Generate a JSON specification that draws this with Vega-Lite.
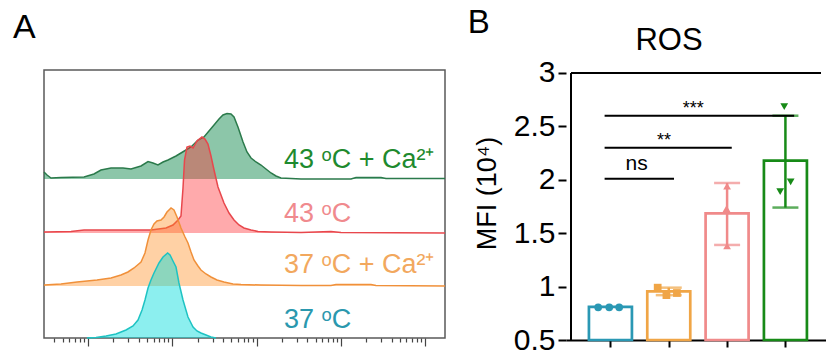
{
  "$schema": "https://vega.github.io/schema/vega-lite/v6.json",
  "padding": {"left": 12, "top": 7, "right": 0, "bottom": 0},
  "config": {"font": "Liberation Sans", "title": {"font": "Liberation Sans", "color": "black"}, "axis": {"labelFont": "Liberation Sans", "titleFont": "Liberation Sans"}},
  "spacing": 18,
  "resolve": {"scale": {"x": "independent", "y": "independent", "color": "independent", "shape": "independent"}},
  "datasets": {
    "green": [{"lx":1.478,"h":166},{"lx":1.514,"h":163},{"lx":1.561,"h":160},{"lx":1.680,"h":160.5},{"lx":1.953,"h":161},{"lx":2.071,"h":164},{"lx":2.154,"h":168},{"lx":2.273,"h":170},{"lx":2.415,"h":170},{"lx":2.510,"h":169},{"lx":2.629,"h":172},{"lx":2.712,"h":176.5},{"lx":2.771,"h":175},{"lx":2.830,"h":173},{"lx":2.890,"h":176},{"lx":2.949,"h":178},{"lx":3.044,"h":182},{"lx":3.103,"h":185},{"lx":3.222,"h":191},{"lx":3.305,"h":198},{"lx":3.376,"h":201},{"lx":3.435,"h":207},{"lx":3.495,"h":213},{"lx":3.554,"h":219},{"lx":3.601,"h":223},{"lx":3.649,"h":224.5},{"lx":3.696,"h":224},{"lx":3.732,"h":221},{"lx":3.779,"h":211},{"lx":3.839,"h":196},{"lx":3.886,"h":186},{"lx":3.934,"h":180},{"lx":3.993,"h":176},{"lx":4.052,"h":173},{"lx":4.111,"h":169},{"lx":4.171,"h":165},{"lx":4.230,"h":162},{"lx":4.289,"h":160},{"lx":4.408,"h":159.5},{"lx":4.527,"h":159},{"lx":5.120,"h":159},{"lx":5.179,"h":160.5},{"lx":5.476,"h":160.5},{"lx":5.535,"h":159.5},{"lx":6.235,"h":159.5}],
    "red": [{"lx":1.478,"h":106},{"lx":1.798,"h":106.5},{"lx":1.953,"h":108},{"lx":2.391,"h":108},{"lx":2.747,"h":108},{"lx":2.925,"h":110},{"lx":3.008,"h":113},{"lx":3.068,"h":118},{"lx":3.103,"h":122},{"lx":3.127,"h":150},{"lx":3.145,"h":178},{"lx":3.174,"h":191},{"lx":3.210,"h":192},{"lx":3.246,"h":190},{"lx":3.293,"h":197},{"lx":3.352,"h":201},{"lx":3.388,"h":199},{"lx":3.423,"h":194},{"lx":3.459,"h":182},{"lx":3.495,"h":168},{"lx":3.542,"h":151},{"lx":3.613,"h":135},{"lx":3.673,"h":125},{"lx":3.732,"h":118},{"lx":3.791,"h":113},{"lx":3.850,"h":110},{"lx":3.934,"h":108},{"lx":4.017,"h":106.5},{"lx":4.171,"h":106},{"lx":4.527,"h":105.5},{"lx":4.882,"h":106.5},{"lx":5.001,"h":105.5},{"lx":6.235,"h":105}],
    "orange": [{"lx":1.478,"h":53},{"lx":1.680,"h":54},{"lx":1.870,"h":56},{"lx":2.107,"h":58},{"lx":2.273,"h":60},{"lx":2.391,"h":63},{"lx":2.474,"h":66},{"lx":2.546,"h":70},{"lx":2.629,"h":76},{"lx":2.676,"h":85},{"lx":2.712,"h":98},{"lx":2.747,"h":108},{"lx":2.783,"h":114},{"lx":2.818,"h":117},{"lx":2.866,"h":118},{"lx":2.902,"h":121},{"lx":2.937,"h":126},{"lx":2.985,"h":130},{"lx":3.020,"h":128},{"lx":3.056,"h":121},{"lx":3.103,"h":110},{"lx":3.151,"h":101},{"lx":3.186,"h":95},{"lx":3.222,"h":86},{"lx":3.257,"h":78},{"lx":3.305,"h":72},{"lx":3.340,"h":68},{"lx":3.400,"h":64},{"lx":3.459,"h":61},{"lx":3.530,"h":58},{"lx":3.613,"h":56},{"lx":3.720,"h":54},{"lx":3.815,"h":53.5},{"lx":4.052,"h":53},{"lx":4.527,"h":52.5},{"lx":4.882,"h":52.5},{"lx":4.942,"h":53.5},{"lx":5.357,"h":53.5},{"lx":5.416,"h":52.5},{"lx":6.235,"h":52}],
    "cyan": [{"lx":1.988,"h":0},{"lx":2.095,"h":0.5},{"lx":2.214,"h":2},{"lx":2.332,"h":4},{"lx":2.451,"h":8},{"lx":2.534,"h":12},{"lx":2.593,"h":18},{"lx":2.641,"h":28},{"lx":2.676,"h":38},{"lx":2.712,"h":50},{"lx":2.747,"h":58},{"lx":2.783,"h":65},{"lx":2.842,"h":75},{"lx":2.890,"h":81},{"lx":2.945,"h":85},{"lx":2.973,"h":83},{"lx":3.008,"h":77},{"lx":3.044,"h":71},{"lx":3.079,"h":55},{"lx":3.127,"h":38},{"lx":3.186,"h":21},{"lx":3.246,"h":11},{"lx":3.293,"h":7},{"lx":3.340,"h":5},{"lx":3.400,"h":3},{"lx":3.459,"h":1},{"lx":3.518,"h":0}],
    "labels": [{"lx":4.325,"h":169.7,"s":"g","t":"43 ᵒC + Ca²⁺"},{"lx":4.325,"h":116.3,"s":"r","t":"43 ᵒC"},{"lx":4.325,"h":64.7,"s":"o","t":"37 ᵒC + Ca²⁺"},{"lx":4.325,"h":9.7,"s":"c","t":"37 ᵒC"}],
    "bars": [{"g":1,"m":0.81,"grp":"c"},{"g":2,"m":0.955,"grp":"o"},{"g":3,"m":1.686,"grp":"p"},{"g":4,"m":2.18,"grp":"g"}],
    "errs": [{"g":1,"m":0.80,"m2":0.82,"grp":"c"},{"g":2,"m":0.92,"m2":0.99,"grp":"o"},{"g":3,"m":1.39,"m2":1.97,"grp":"p"},{"g":4,"m":1.74,"m2":2.60,"grp":"g"}],
    "caps": [{"g":2,"m":0.92,"grp":"o"},{"g":2,"m":0.99,"grp":"o"},{"g":3,"m":1.39,"grp":"p"},{"g":3,"m":1.97,"grp":"p"},{"g":4,"m":1.74,"grp":"g"},{"g":4,"m":2.60,"grp":"g"}],
    "pts": [{"g":0.79,"m":0.806,"grp":"c"},{"g":0.98,"m":0.806,"grp":"c"},{"g":1.15,"m":0.806,"grp":"c"},{"g":1.81,"m":0.99,"grp":"o"},{"g":1.96,"m":0.92,"grp":"o"},{"g":2.14,"m":0.94,"grp":"o"},{"g":3.0,"m":1.94,"grp":"p"},{"g":2.99,"m":1.73,"grp":"p"},{"g":3.0,"m":1.38,"grp":"p"},{"g":3.98,"m":2.685,"grp":"g"},{"g":4.09,"m":1.98,"grp":"g"},{"g":3.91,"m":1.89,"grp":"g"}],
    "sig": [{"g":0.9,"g2":2.09,"m":2.01},{"g":0.9,"g2":3.08,"m":2.30},{"g":0.9,"g2":4.15,"m":2.60}],
    "frame": [{"g":0.324,"g2":4.61,"m":3,"m2":3},{"g":0.324,"g2":0.324,"m":0.5,"m2":3}]
  },
  "hconcat": [
    {
      "width": 401,
      "height": 268,
      "view": {"stroke": "#5a5a5a", "strokeWidth": 1.5},
      "encoding": {
        "x": {"field": "lx", "type": "quantitative", "scale": {"domain": [1.478, 6.235], "nice": false, "zero": false},
          "axis": {"title": null, "labels": false, "grid": false, "domain": false, "tickColor": "#444", "tickWidth": 1.2,
            "tickSize": {"condition": {"test": "datum.value % 1 === 0", "value": 8}, "value": 4},
            "values": [1.602,1.699,1.778,1.845,1.903,1.954,2,2.301,2.477,2.602,2.699,2.778,2.845,2.903,2.954,3,3.301,3.477,3.602,3.699,3.778,3.845,3.903,3.954,4,4.301,4.477,4.602,4.699,4.778,4.845,4.903,4.954,5,5.301,5.477,5.602,5.699,5.778,5.845,5.903,5.954,6]}},
        "y": {"field": "h", "type": "quantitative", "scale": {"domain": [0, 268], "nice": false}, "axis": null}
      },
      "layer": [
        {"data": {"name": "green"}, "mark": {"type": "area", "color": "#008040", "opacity": 0.45}, "encoding": {"y2": {"datum": 159}}},
        {"data": {"name": "green"}, "mark": {"type": "line", "color": "#2b7a4b", "strokeWidth": 1.5}, "encoding": {}},
        {"data": {"name": "red"}, "mark": {"type": "area", "color": "#ff2a30", "opacity": 0.4}, "encoding": {"y2": {"datum": 105}}},
        {"data": {"name": "red"}, "mark": {"type": "line", "color": "#e8474c", "strokeWidth": 1.5}, "encoding": {}},
        {"data": {"name": "orange"}, "mark": {"type": "area", "color": "#ff8c1e", "opacity": 0.4}, "encoding": {"y2": {"datum": 52}}},
        {"data": {"name": "orange"}, "mark": {"type": "line", "color": "#f0903a", "strokeWidth": 1.5}, "encoding": {}},
        {"data": {"name": "cyan"}, "mark": {"type": "area", "color": "#00dcdc", "opacity": 0.45}, "encoding": {"y2": {"datum": 0}}},
        {"data": {"name": "cyan"}, "mark": {"type": "line", "color": "#1ec3c3", "strokeWidth": 1.5}, "encoding": {}},
        {"data": {"name": "labels"}, "mark": {"type": "text", "align": "left", "baseline": "alphabetic", "fontSize": 27},
          "encoding": {"text": {"field": "t"}, "color": {"field": "s", "type": "nominal", "scale": {"domain": ["g","r","o","c"], "range": ["#1e8a2e","#f08a8e","#f2a85e","#2a98ae"]}, "legend": null}}},
        {"data": {"values": [{"lx": 1.11, "h": 300, "t": "A"}]}, "mark": {"type": "text", "align": "left", "baseline": "alphabetic", "fontSize": 34, "color": "black"},
          "encoding": {"text": {"field": "t"}}}
      ]
    },
    {
      "width": 260,
      "height": 270,
      "view": {"stroke": null},
      "encoding": {
        "x": {"field": "g", "type": "quantitative", "scale": {"domain": [0.324, 4.61], "nice": false, "zero": false},
          "axis": {"title": null, "labels": false, "grid": false, "values": [1,2,3,4], "tickSize": 7, "tickWidth": 2, "tickColor": "black", "domainColor": "black", "domainWidth": 2}},
        "y": {"field": "m", "type": "quantitative", "scale": {"domain": [0.5, 3.028], "nice": false, "zero": false},
          "axis": {"title": "MFI (10⁴)", "titleFontSize": 27, "titleFontWeight": "normal", "titleColor": "black", "titlePadding": 12, "titleY": 123,
            "values": [0.5,1,1.5,2,2.5,3], "format": "~g", "labelFontSize": 30, "labelColor": "black", "labelPadding": 3,
            "tickSize": 8, "tickWidth": 2, "tickColor": "black", "domain": false, "grid": false}}
      },
      "layer": [
        {"data": {"name": "frame"}, "mark": {"type": "rule", "color": "black", "strokeWidth": 2}, "encoding": {"x2": {"field": "g2"}, "y2": {"field": "m2"}}},
        {"data": {"name": "bars"}, "mark": {"type": "bar", "width": 43, "filled": false, "strokeWidth": 2.7},
          "encoding": {"y2": {"datum": 0.5}, "color": {"field": "grp", "type": "nominal", "scale": {"domain": ["c","o","p","g"], "range": ["#2a98b4","#f0a546","#f08a8a","#178a17"]}, "legend": null}}},
        {"data": {"name": "errs"}, "mark": {"type": "rule", "strokeWidth": 2.5},
          "encoding": {"y2": {"field": "m2"}, "color": {"field": "grp", "type": "nominal", "legend": null}}},
        {"data": {"name": "caps"}, "mark": {"type": "tick", "orient": "horizontal", "size": 26, "thickness": 2.5},
          "encoding": {"color": {"field": "grp", "type": "nominal", "legend": null}}},
        {"data": {"name": "pts"}, "mark": {"type": "point", "filled": true, "size": 60, "opacity": 1},
          "encoding": {"color": {"field": "grp", "type": "nominal", "legend": null},
            "shape": {"field": "grp", "type": "nominal", "scale": {"domain": ["c","o","p","g"], "range": ["circle","square","triangle-up","triangle-down"]}, "legend": null}}},
        {"data": {"name": "sig"}, "mark": {"type": "rule", "color": "black", "strokeWidth": 2}, "encoding": {"x2": {"field": "g2"}}},
        {"data": {"values": [{"g": 1.45, "m": 2.09, "t": "ns"}]}, "mark": {"type": "text", "fontSize": 21, "align": "center", "baseline": "alphabetic", "color": "black"}, "encoding": {"text": {"field": "t"}}},
        {"data": {"values": [{"g": 1.92, "m": 2.316, "t": "**"}, {"g": 2.42, "m": 2.616, "t": "***"}]}, "mark": {"type": "text", "fontSize": 18, "align": "center", "baseline": "alphabetic", "color": "black"}, "encoding": {"text": {"field": "t"}}},
        {"data": {"values": [{"g": 2.005, "m": 3.215, "t": "ROS"}]}, "mark": {"type": "text", "fontSize": 31, "align": "center", "baseline": "alphabetic", "color": "black"}, "encoding": {"text": {"field": "t"}}},
        {"data": {"values": [{"g": -1.448, "m": 3.374, "t": "B"}]}, "mark": {"type": "text", "fontSize": 33, "align": "left", "baseline": "alphabetic", "color": "black"}, "encoding": {"text": {"field": "t"}}}
      ]
    }
  ]
}
